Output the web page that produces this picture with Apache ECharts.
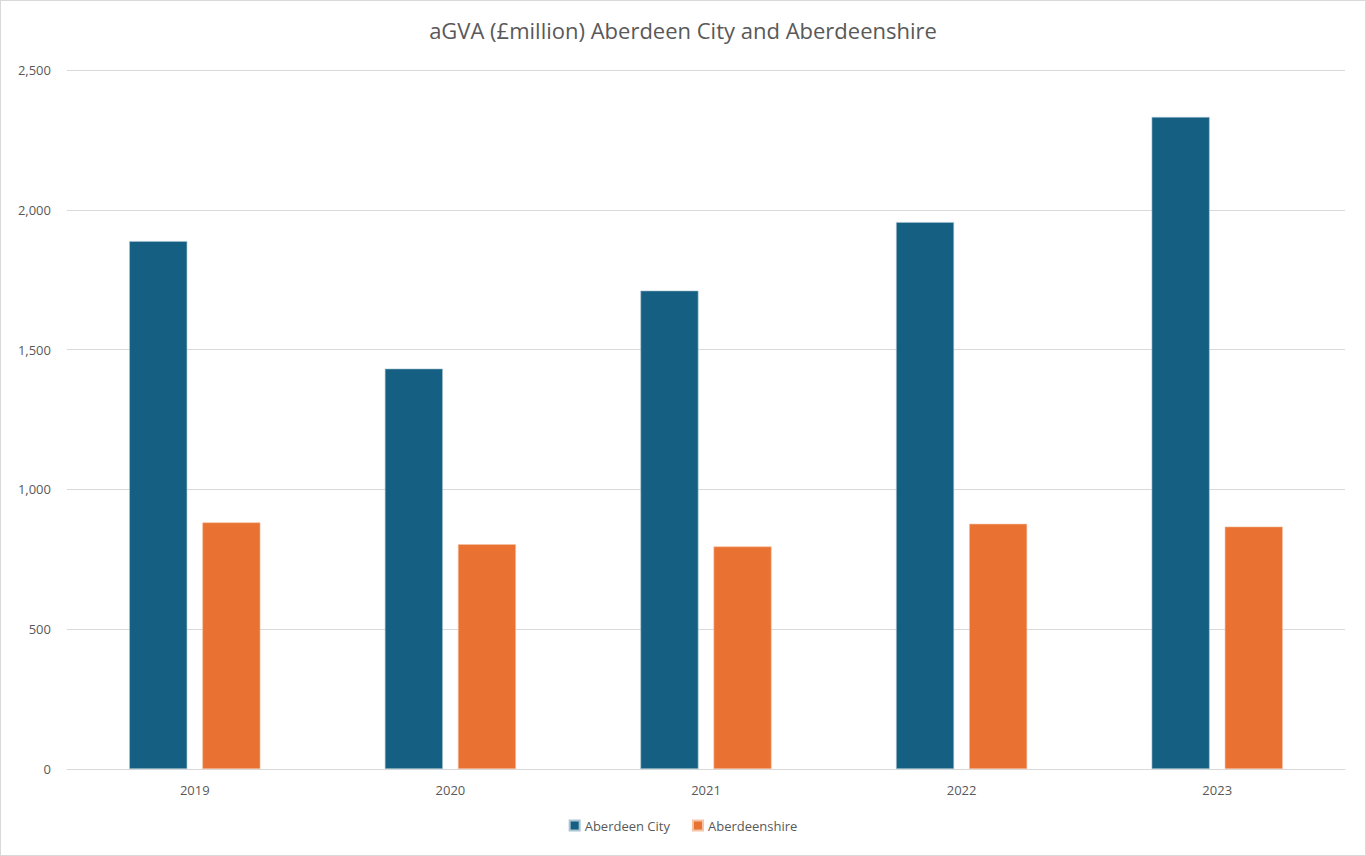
<!DOCTYPE html>
<html>
<head>
<meta charset="utf-8">
<title>aGVA Aberdeen City and Aberdeenshire</title>
<script src="https://cdn.jsdelivr.net/npm/echarts@6/dist/echarts.min.js"></script>
<style>
  html, body { margin: 0; padding: 0; background: #fff; }
  #chart { width: 1364px; height: 854px; border: 1px solid #d9d9d9; }
</style>
</head>
<body>
<div id="chart"></div>
<script>
// values (£million)
const years = ['2019', '2020', '2021', '2022', '2023'];
const aberdeenCity = [1888, 1432, 1711, 1956, 2332];
const aberdeenshire = [882, 804, 796, 877, 867];

const textColor = '#595959';
const font = 'Open Sans';

const chart = echarts.init(document.getElementById('chart'), null, { renderer: 'svg' });

chart.setOption({
  animation: false,
  textStyle: { fontFamily: font, color: textColor },
  title: {
    text: 'aGVA (£million) Aberdeen City and Aberdeenshire',
    left: 'center',
    top: 13,
    textStyle: { fontFamily: font, fontSize: 22, fontWeight: 'normal', color: textColor }
  },
  legend: {
    bottom: 18,
    left: 'center',
    itemWidth: 10,
    itemHeight: 10,
    itemGap: 22,
    icon: 'rect',
    textStyle: { fontFamily: font, fontSize: 13, color: textColor }
  },
  grid: { left: 66, right: 20, top: 69, bottom: 86, containLabel: false },
  xAxis: {
    type: 'category',
    data: years,
    axisTick: { show: false },
    axisLine: { lineStyle: { color: '#d9d9d9' } },
    axisLabel: { fontFamily: font, fontSize: 13, color: textColor, margin: 14 }
  },
  yAxis: {
    type: 'value',
    min: 0,
    max: 2500,
    interval: 500,
    axisLine: { show: false },
    axisTick: { show: false },
    splitLine: { lineStyle: { color: '#d9d9d9' } },
    axisLabel: {
      fontFamily: font, fontSize: 13, color: textColor, margin: 16,
      formatter: v => v.toLocaleString('en-GB')
    }
  },
  series: [
    {
      name: 'Aberdeen City',
      type: 'bar',
      data: aberdeenCity,
      barWidth: '22.7%',
      barGap: '26%',
      itemStyle: { color: '#156082', borderColor: '#a9c4d2', borderWidth: 0.6 }
    },
    {
      name: 'Aberdeenshire',
      type: 'bar',
      data: aberdeenshire,
      barWidth: '22.7%',
      itemStyle: { color: '#E97132', borderColor: '#f5c3a6', borderWidth: 0.6 }
    }
  ]
});
</script>
</body>
</html>
